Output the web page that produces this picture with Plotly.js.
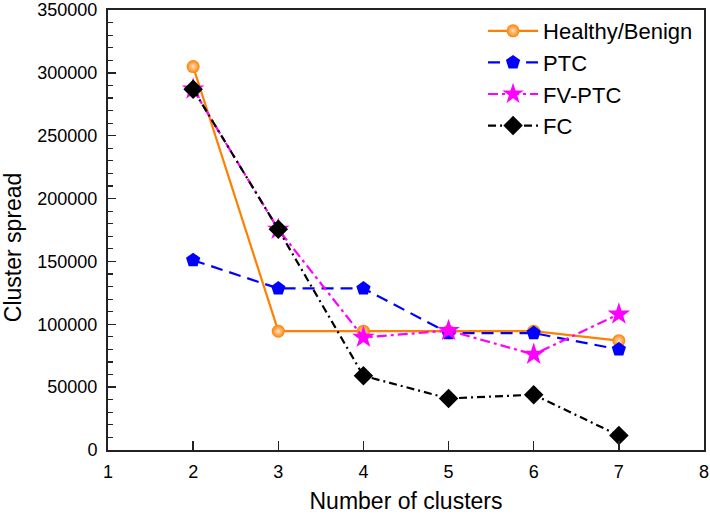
<!DOCTYPE html>
<html>
<head>
<meta charset="utf-8">
<script src="https://cdn.plot.ly/plotly-3.0.1.min.js"></script>
<style>html,body{margin:0;padding:0;background:#fff;}#chart{width:710px;height:514px;}</style>
</head>
<body>
<div id="chart"></div>
<script>
var clusters = [2, 3, 4, 5, 6, 7];
var healthyBenign = [305000, 94500, 94500, 94500, 94500, 87000];
var ptc = [151000, 128500, 128500, 93000, 93000, 80000];
var fvPtc = [287000, 175500, 89500, 95000, 76000, 108000];
var fc = [287000, 175500, 59000, 41000, 44000, 11500];
var seriesNames = ['Healthy/Benign', 'PTC', 'FV-PTC', 'FC'];
var yTicks = [0, 50000, 100000, 150000, 200000, 250000, 300000, 350000];
var xTicks = [1, 2, 3, 4, 5, 6, 7, 8];
var xTitle = 'Number of clusters';
var yTitle = 'Cluster spread';

var traces = [
  {x: clusters, y: healthyBenign, name: seriesNames[0], mode: 'lines+markers',
   line: {color: '#FF8000', width: 2.2, dash: 'solid'},
   marker: {symbol: 'circle', size: 13, color: '#FF8000', gradient: {type: 'radial', color: '#FFE0C0'}}},
  {x: clusters, y: ptc, name: seriesNames[1], mode: 'lines+markers',
   line: {color: '#0000FF', width: 2.2, dash: '12px,7px'},
   marker: {symbol: 'pentagon', size: 15, color: '#0000FF'}},
  {x: clusters, y: fvPtc, name: seriesNames[2], mode: 'lines+markers',
   line: {color: '#FF00FF', width: 2.2, dash: '10px,4px,3px,4px'},
   marker: {symbol: 'star', size: 17, color: '#FF00FF'}},
  {x: clusters, y: fc, name: seriesNames[3], mode: 'lines+markers',
   line: {color: '#000000', width: 2.2, dash: '8px,4px,2px,4px'},
   marker: {symbol: 'diamond', size: 15, color: '#000000'}}
];

var layout = {
  width: 710, height: 514,
  margin: {l: 108, r: 6, t: 10, b: 64},
  paper_bgcolor: '#fff', plot_bgcolor: '#fff',
  font: {family: 'Liberation Sans, Arial, sans-serif', color: '#000'},
  showlegend: true,
  legend: {x: 0.99, xanchor: 'right', y: 1.0, yanchor: 'top', bgcolor: 'rgba(0,0,0,0)',
           font: {size: 22, color: '#000'}, tracegroupgap: 0, itemwidth: 50},
  xaxis: {
    range: [1, 8], tickvals: xTicks, ticktext: xTicks.map(String),
    showgrid: false, zeroline: false, showline: true, linecolor: '#222', linewidth: 2,
    mirror: true, ticks: 'inside', ticklen: 9, tickwidth: 1.5, tickcolor: '#222',
    tickfont: {size: 18}, ticklabelstandoff: 4,
    title: {text: xTitle, font: {size: 23}, standoff: 15}
  },
  yaxis: {
    range: [0, 350000], tickvals: yTicks, ticktext: yTicks.map(String),
    showgrid: false, zeroline: false, showline: true, linecolor: '#222', linewidth: 2,
    mirror: true, ticks: 'inside', ticklen: 8, tickwidth: 1.5, tickcolor: '#222',
    tickfont: {size: 18}, ticklabelstandoff: 5,
    minor: {dtick: 10000, ticks: 'inside', ticklen: 5, tickwidth: 1.2, tickcolor: '#222', showgrid: false}
  },
  annotations: [
    {text: yTitle, xref: 'paper', yref: 'paper', x: -0.1594, y: 0.461,
     xanchor: 'center', yanchor: 'middle', textangle: -90, showarrow: false,
     font: {size: 23, color: '#000'}}
  ]
};

Plotly.newPlot('chart', traces, layout, {staticPlot: true, displayModeBar: false});
</script>
</body>
</html>
